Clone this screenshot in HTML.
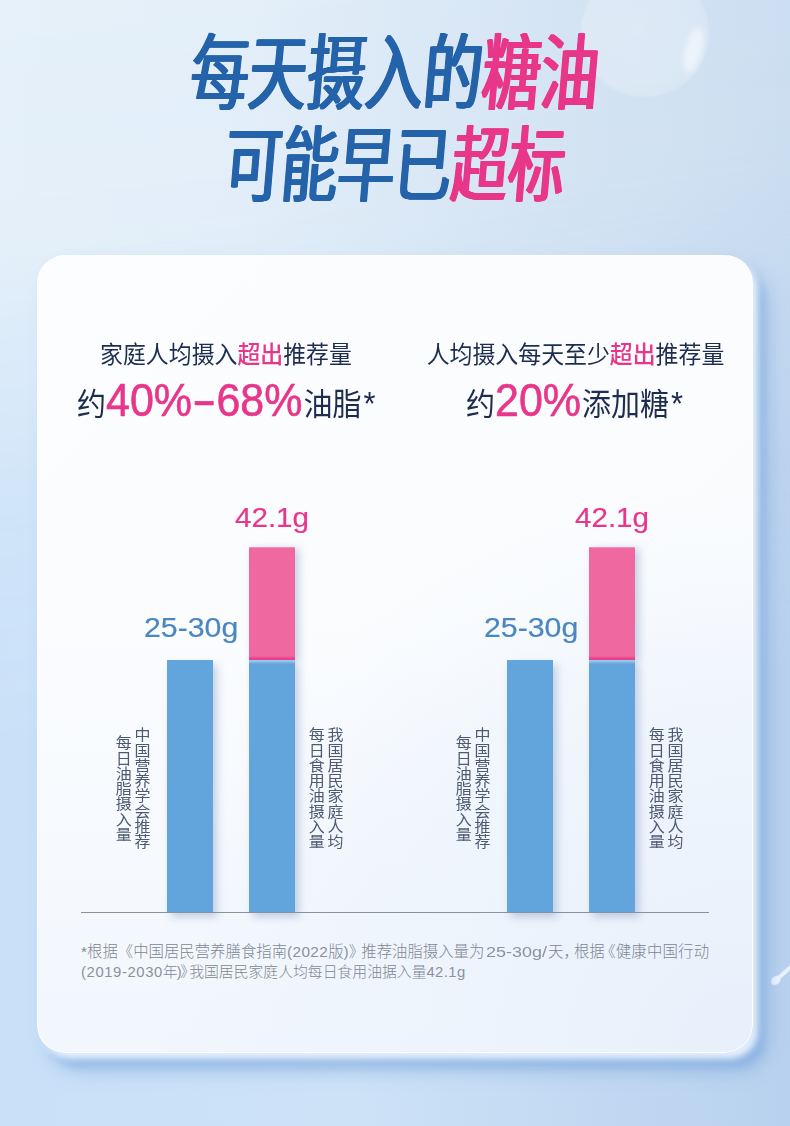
<!DOCTYPE html>
<html lang="zh-CN">
<head>
<meta charset="utf-8">
<title>每天摄入的糖油可能早已超标</title>
<style>
*{margin:0;padding:0;box-sizing:border-box}
html,body{width:790px;height:1126px;overflow:hidden}
body{position:relative;font-family:"Liberation Sans","Noto Sans CJK SC",sans-serif;color:#1d2d4f;
background:linear-gradient(to right,#e6f1fa 0%,#e4eff9 30%,#d9e7f5 62%,#cddff1 100%)}
.bg2{position:absolute;left:0;top:0;width:790px;height:1126px;
background:linear-gradient(to right,#c9e0f8 0%,#cde2f7 45%,#bfd7f1 80%,#b8d1ee 100%);
-webkit-mask-image:linear-gradient(174deg,rgba(0,0,0,0) 0%,rgba(0,0,0,.06) 20%,rgba(0,0,0,.8) 44%,#000 62%);
mask-image:linear-gradient(174deg,rgba(0,0,0,0) 0%,rgba(0,0,0,.06) 20%,rgba(0,0,0,.8) 44%,#000 62%)}
.bubble{position:absolute;left:581px;top:-31px;width:128px;height:128px;border-radius:50%;
background:radial-gradient(circle at 45% 45%,rgba(255,255,255,.28) 0%,rgba(255,255,255,.2) 70%,rgba(255,255,255,.3) 92%,rgba(255,255,255,0) 100%);filter:blur(1.2px)}
.bubble:after{content:"";position:absolute;left:104px;top:58px;width:17px;height:46px;border-radius:50%;background:rgba(255,255,255,.5);transform:rotate(14deg);filter:blur(2.5px)}
.splash{position:absolute;left:774px;top:980px;width:30px;height:4px;border-radius:2px;background:rgba(238,245,253,.9);transform-origin:0 50%;transform:rotate(-42deg);filter:blur(.5px)}
.splash:before{content:"";position:absolute;left:-3px;top:-2.5px;width:11px;height:8px;border-radius:50%;background:rgba(238,245,253,.95)}
h1{position:absolute;left:0;top:0;width:790px;font-weight:400;font-size:83px;line-height:94px;color:#2463a9;text-align:center;white-space:nowrap}
h1 span.l{display:block;position:absolute;left:0;width:790px;transform-origin:50% 50%;transform:scaleX(.70) skewX(-7deg);text-shadow:2px 0 0 currentColor,-2px 0 0 currentColor,1.3px 0 0 currentColor,-1.3px 0 0 currentColor,.6px 0 0 currentColor,-.6px 0 0 currentColor}
h1 .p{color:#e8368a}
.card{position:absolute;left:37px;top:255px;width:716px;height:798px;border-radius:28px;
background:radial-gradient(ellipse 85% 70% at 100% 100%,#e7f0fb 0%,#ecf3fc 40%,rgba(246,249,254,0) 100%),linear-gradient(to bottom,rgba(240,246,253,0) 45%,rgba(240,246,253,.85) 100%),linear-gradient(135deg,#fcfdfe 0%,#f9fbfe 100%);
border:1px solid rgba(255,255,255,.95);background-origin:border-box;box-shadow:5px 6px 6px 0 rgba(232,242,254,.92),13px 16px 12px 0 rgba(100,150,215,.42),13px 16px 24px 0 rgba(100,150,215,.22)}
.t1{position:absolute;font-size:22.9px;line-height:30px;white-space:nowrap;text-align:center;color:#1d2d4f;transform-origin:50% 80%;transform:scaleY(1.05)}
.t1 b{color:#e8368a;font-weight:500}
.t2{position:absolute;font-size:29px;line-height:50px;white-space:nowrap;color:#1d2d4f;transform-origin:0 76%;transform:scaleY(1.075)}
.t2 i{font-style:normal;color:#e8368a;font-size:43px;line-height:50px;-webkit-text-stroke:.6px #e8368a;margin:0 1px 0 0;position:relative;top:1.4px}
.t2 u{text-decoration:none;position:relative;top:-.5px;font-size:31px;margin-left:2px}
.t2 i span{display:inline-block;margin:0 5px;transform:scaleX(1.7)}
.bar{position:absolute;background:#62a5dd;box-shadow:4px 5px 8px rgba(125,145,190,.42)}
.bar.pk{background:#ef69a0;box-shadow:4px 2px 8px rgba(125,145,190,.42)}
.bar.pk:after{content:"";position:absolute;left:0;bottom:0;width:100%;height:4px;background:linear-gradient(to bottom,rgba(233,63,140,0),#e93f8c 60%,#e93f8c)}
.bar.pk:before{content:"";position:absolute;left:0;top:0;width:100%;height:1px;background:#f48db8}
.hl{position:absolute;height:4px;width:46px;background:linear-gradient(to bottom,#9ccaee,#8cbfe9 45%,rgba(98,165,221,0))}
.axis{position:absolute;left:81px;top:912px;width:628px;height:1px;background:#8a909c}
.num{position:absolute;-webkit-text-stroke:.2px currentColor;font-size:28.3px;line-height:30px;white-space:nowrap;color:#4a86c0;transform-origin:0 50%}
.num.pk{color:#e8368a}
.v{position:absolute;writing-mode:vertical-rl;font-size:15.25px;line-height:18px;transform:scaleX(1.05);color:#4d5a70;white-space:nowrap;text-align:center}
.fn{position:absolute;left:81px;font-size:15.4px;line-height:20px;color:#7f8793;white-space:nowrap;font-weight:300}
.fn .e{letter-spacing:.7px;font-weight:400;color:#8b929d}
#f1 .e{letter-spacing:1.25px}
.fn .c{margin-right:-5px}
.fn .k{margin-left:-2px;margin-right:-5.9px}
</style>
</head>
<body>
<div class="bg2"></div>
<div class="bubble"></div>
<div class="splash"></div>
<h1><span class="l" style="top:27.8px;transform:scaleX(.703) skewX(-7deg)">每天摄入的<span class="p">糖油</span></span><span class="l" style="top:120px;transform:scaleX(.683) skewX(-7deg)">可能早已<span class="p">超标</span></span></h1>
<div class="card"></div>
<div class="t1" style="left:76px;width:300px;top:340px">家庭人均摄入<b>超出</b>推荐量</div>
<div class="t1" style="left:405.5px;width:340px;top:340px">人均摄入每天至少<b>超出</b>推荐量</div>

<div class="t2" style="left:77px;top:374.5px">约<i>40%<span>-</span>68%</i>油脂<u>*</u></div>
<div class="t2" style="left:466px;top:374.5px">约<i>20%</i>添加糖<u>*</u></div>

<div class="bar" style="left:167px;top:660px;width:46px;height:252px"></div>
<div class="bar" style="left:249px;top:660px;width:46px;height:252px"></div>
<div class="bar pk" style="left:249px;top:547px;width:46px;height:113px"></div>
<div class="hl" style="left:249px;top:660px"></div>
<div class="bar" style="left:507px;top:660px;width:46px;height:252px"></div>
<div class="bar" style="left:589px;top:660px;width:46px;height:252px"></div>
<div class="bar pk" style="left:589px;top:547px;width:46px;height:113px"></div>
<div class="hl" style="left:589px;top:660px"></div>
<div class="axis"></div>

<div class="num" style="left:144px;top:611.7px;transform:scaleX(1.07)">25-30g</div>
<div class="num pk" style="left:235px;top:501.6px;transform:scaleX(1.045)">42.1g</div>
<div class="num" style="left:484px;top:611.7px;transform:scaleX(1.07)">25-30g</div>
<div class="num pk" style="left:575px;top:501.6px;transform:scaleX(1.045)">42.1g</div>

<div class="v" style="left:113px;top:727px">中国营养学会推荐<br>每日油脂摄入量</div>
<div class="v" style="left:306px;top:727px">我国居民家庭人均<br>每日食用油摄入量</div>
<div class="v" style="left:453px;top:727px">中国营养学会推荐<br>每日油脂摄入量</div>
<div class="v" style="left:646px;top:727px">我国居民家庭人均<br>每日食用油摄入量</div>

<div class="fn" id="f1" style="top:942px;font-size:15.4px">*根据《中国居民营养膳食指南<span class="e" style="letter-spacing:.35px">(2022</span>版<span class="e" style="letter-spacing:0">)</span><span style="margin-right:-2.9px">》</span>推荐油脂摄入量为<span class="e" style="display:inline-block;transform:scaleX(1.17);transform-origin:0 50%;margin-left:1.5px;margin-right:10px;letter-spacing:0">25-30g/</span>天<span class="c">，</span>根据<span style="margin-left:-4.4px">《</span><span style="letter-spacing:.2px">健康中国行动</span></div>
<div class="fn" id="f2" style="top:962px;font-size:14.83px"><span class="e" style="letter-spacing:.6px">(2019-2030</span>年<span class="e" style="margin-left:-1px;letter-spacing:.6px">)</span><span class="k">》</span>我国居民家庭人均每日食用油据入量<span class="e" style="letter-spacing:.4px">42.1g</span></div>
</body>
</html>
